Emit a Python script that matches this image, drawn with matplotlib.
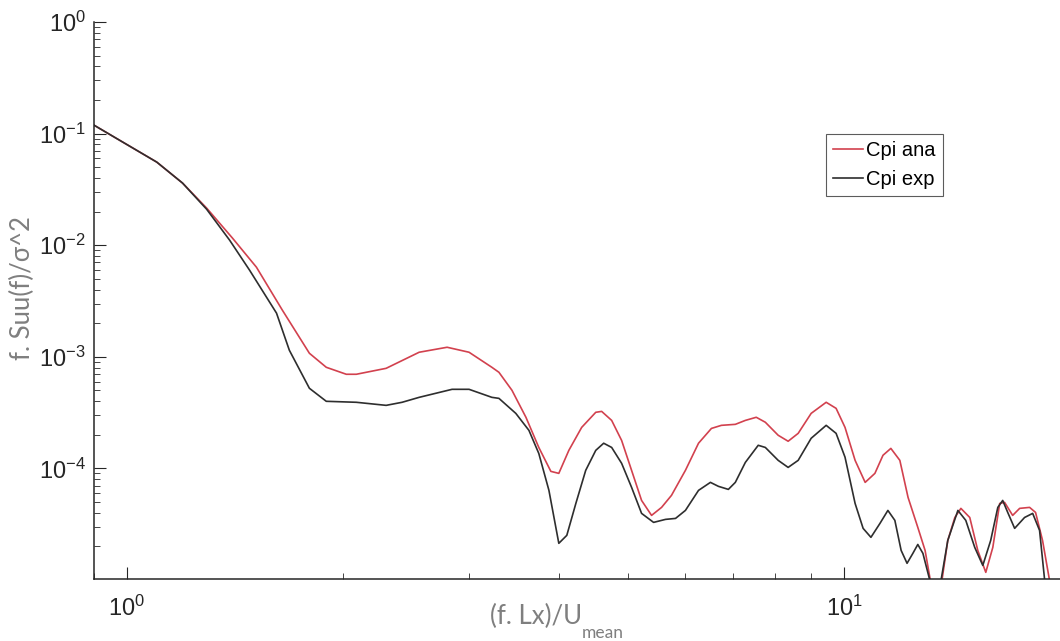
import numpy as np
import matplotlib
matplotlib.use('Agg')
import matplotlib.pyplot as plt

plt.rcParams['font.family'] = ['Liberation Sans', 'DejaVu Sans']
plt.rcParams['mathtext.fontset'] = 'custom'
plt.rcParams['mathtext.rm'] = 'Liberation Sans'
plt.rcParams['mathtext.it'] = 'Liberation Sans:italic'

# normalised frequency (f. Lx)/U_mean
x_ana = [0.900, 0.987, 1.101, 1.196, 1.292, 1.404, 1.516, 1.648, 1.797, 1.897,
         2.023, 2.089, 2.299, 2.556, 2.796, 3.000, 3.228, 3.302, 3.443, 3.601,
         3.753, 3.901, 4.002, 4.133, 4.307, 4.506, 4.592, 4.742, 4.896, 5.055,
         5.220, 5.390, 5.566, 5.746, 6.009, 6.267, 6.532, 6.745, 7.053, 7.283,
         7.543, 7.766, 8.093, 8.356, 8.630, 8.997, 9.441, 9.747, 10.03, 10.36,
         10.70, 11.04, 11.33, 11.62, 11.96, 12.28, 12.67, 12.97, 13.17, 13.43,
         13.69, 13.95, 14.27, 14.55, 14.97, 15.36, 15.76, 16.12, 16.48, 16.74,
         17.18, 17.57, 18.14, 18.49, 18.91, 19.34, 19.59]
# analytical spectrum f.Suu(f)/sigma^2
y_ana = [0.119, 0.0839, 0.0555, 0.0360, 0.0215, 0.01156, 0.00635, 0.00261, 0.001075, 0.000805,
         0.000697, 0.000697, 0.000788, 0.001098, 0.001217, 0.001098, 0.000805, 0.000726, 0.000501, 0.000287,
         0.000154, 0.0000940, 0.0000902, 0.000145, 0.000233, 0.000318, 0.000324, 0.000269, 0.000178, 0.0000960,
         0.0000516, 0.0000379, 0.0000447, 0.0000573, 0.0000960, 0.000168, 0.000228, 0.000243, 0.000248, 0.000269,
         0.000287, 0.000259, 0.000198, 0.000175, 0.000206, 0.000311, 0.000391, 0.000345, 0.000233, 0.000118,
         0.0000749, 0.0000902, 0.000131, 0.000151, 0.000118, 0.0000549, 0.0000296, 0.0000184, 0.0000105, 0.000005,
         0.0000099, 0.0000226, 0.0000363, 0.0000438, 0.0000363, 0.0000184, 0.0000117, 0.0000196, 0.0000485, 0.0000496,
         0.0000379, 0.0000438, 0.0000447, 0.0000403, 0.0000226, 0.0000099, 0.000005]

x_exp = [0.900, 0.987, 1.101, 1.196, 1.292, 1.391, 1.483, 1.617, 1.685, 1.797,
         1.897, 2.089, 2.299, 2.420, 2.556, 2.841, 3.000, 3.228, 3.302, 3.486,
         3.636, 3.753, 3.877, 4.002, 4.106, 4.227, 4.363, 4.506, 4.622, 4.742,
         4.896, 5.055, 5.220, 5.425, 5.637, 5.821, 6.009, 6.267, 6.511, 6.681,
         6.897, 7.053, 7.283, 7.591, 7.766, 8.093, 8.356, 8.630, 8.997, 9.441,
         9.747, 10.03, 10.36, 10.63, 10.90, 11.22, 11.51, 11.77, 12.01, 12.24,
         12.47, 12.67, 12.88, 13.17, 13.43, 13.65, 13.95, 14.41, 14.78, 15.21,
         15.61, 16.01, 16.38, 16.64, 16.91, 17.29, 17.85, 18.32, 18.73, 19.04,
         19.20]
# measured spectrum
y_exp = [0.119, 0.0839, 0.0555, 0.0360, 0.0210, 0.01109, 0.00597, 0.00246, 0.001144, 0.000522,
         0.000399, 0.000391, 0.000367, 0.000391, 0.000433, 0.000511, 0.000511, 0.000433, 0.000424, 0.000311,
         0.000219, 0.000136, 0.0000635, 0.0000213, 0.0000251, 0.0000485, 0.0000960, 0.000145, 0.000168, 0.000154,
         0.000111, 0.0000676, 0.0000395, 0.0000328, 0.0000349, 0.0000356, 0.0000420, 0.0000635, 0.0000749, 0.0000690,
         0.0000648, 0.0000749, 0.000113, 0.000161, 0.000154, 0.000118, 0.000102, 0.000118, 0.000186, 0.000243,
         0.000206, 0.000126, 0.0000485, 0.0000290, 0.0000241, 0.0000321, 0.0000420, 0.0000342, 0.0000184, 0.0000141,
         0.0000173, 0.0000208, 0.0000173, 0.0000099, 0.000005, 0.0000099, 0.0000226, 0.0000420, 0.0000342, 0.0000196,
         0.0000135, 0.0000226, 0.0000447, 0.0000516, 0.0000403, 0.0000290, 0.0000363, 0.0000395, 0.0000278, 0.0000099,
         0.000005]

fig = plt.figure(figsize=(10.6, 6.41), dpi=100)
ax = fig.add_axes([94/1060, 62/641, 1 - 94/1060, (579-22)/641])

ax.loglog(x_ana, y_ana, color='#d2414e', lw=1.2, label='Cpi ana')
ax.loglog(x_exp, y_exp, color='#2e2e2e', lw=1.2, label='Cpi exp')

ax.set_xlim(0.9, 20)
ax.set_ylim(1.02e-5, 1)

for side in ['top', 'right']:
    ax.spines[side].set_visible(False)
for side in ['left', 'bottom']:
    ax.spines[side].set_color('#262626')
    ax.spines[side].set_linewidth(1.1)

ax.tick_params(which='both', direction='in', colors='#262626', labelsize=17)
ax.tick_params(axis='y', which='major', length=8.5, pad=6)
ax.tick_params(axis='y', which='minor', length=4.3)
ax.tick_params(axis='x', which='major', length=8.5, pad=12)
ax.tick_params(axis='x', which='minor', length=4.3)
ax.yaxis.set_major_locator(matplotlib.ticker.LogLocator(base=10, numticks=10))
ax.yaxis.set_minor_locator(matplotlib.ticker.LogLocator(base=10, subs=np.arange(2, 10), numticks=20))
ax.xaxis.set_minor_locator(matplotlib.ticker.LogLocator(base=10, subs=np.arange(2, 10), numticks=20))
ax.xaxis.set_minor_formatter(matplotlib.ticker.NullFormatter())

leg = ax.legend(loc='upper left', bbox_to_anchor=((826-94)/966, (579-134)/557),
                fontsize=14.5, frameon=True, fancybox=False, handlelength=1.5,
                handletextpad=0.15, borderpad=0.35, labelspacing=0.5, borderaxespad=0)
leg.get_frame().set_edgecolor('#333333')
leg.get_frame().set_linewidth(0.8)

# axis titles in a lighter sans face
lab_font = dict(family=['Lato', 'DejaVu Sans'], color='#7f7f7f', fontsize=18.5)
fig.text(22/1060, 1 - 288/641, 'f. Suu(f)/\u03c3^2', rotation=90, ha='center', va='center', **lab_font)
xl = fig.text(536/1060, 1 - 616/641, '(f. Lx)/U', ha='center', va='center', **lab_font)
ax.annotate('mean', xy=(1.0, 0.15), xycoords=xl, ha='left', va='top',
            family=['Lato', 'DejaVu Sans'], color='#7f7f7f', fontsize=12.5)

fig.savefig('out.png', dpi=100)
